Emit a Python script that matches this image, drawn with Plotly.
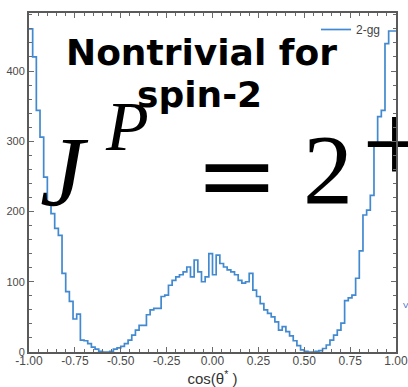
import numpy as np
import plotly.graph_objects as go

# Histogram of cos(theta*) for the 2-gg sample: 100 equal bins on [-1, 1]
bin_lo, bin_hi, n_bins = -1.0, 1.0, 100
counts = [
    460, 420, 344, 306, 249, 211, 197, 176, 166, 112,
    86, 72, 47, 54, 17, 16, 12, 7, 4, 1,
    0, 0, 1, 4, 6, 8, 12, 17, 24, 31,
    38, 38, 53, 60, 62, 62, 79, 81, 95, 102,
    107, 110, 114, 121, 107, 131, 114, 100, 107, 140,
    110, 138, 126, 121, 117, 114, 110, 102, 98, 100,
    112, 88, 79, 69, 60, 55, 50, 43, 31, 36,
    29, 23, 16, 9, 3, 1, 0, 0, 1, 2,
    5, 10, 17, 24, 31, 41, 73, 77, 81, 105,
    144, 195, 202, 223, 295, 335, 344, 439, 457, 457,
]
counts = counts[:n_bins]

series_name = "2-gg"
x_tickvals = [-1.0, -0.75, -0.5, -0.25, 0.0, 0.25, 0.5, 0.75, 1.0]
x_ticktext = ["-1.00", "-0.75", "-0.50", "-0.25", "0.00", "0.25", "0.50", "0.75", "1.00"]
y_tickvals = [0, 100, 200, 300, 400]
y_top = 482.6
x_title = "cos(θ<sup>*</sup> )"
headline = ["Nontrivial for", "spin-2"]

edges = np.linspace(bin_lo, bin_hi, n_bins + 1)
step_x = list(edges)
step_y = list(counts) + [counts[-1]]

W, H = 408, 387
L, R, T, B = 29, 12, 13, 35
pw, ph = W - L - R, H - T - B


def px(x):
    return (x - L) / pw


def py(y):
    return (H - B - y) / ph


def dx(x):
    return bin_lo + (x - L) / pw * (bin_hi - bin_lo)


def dy(y):
    return (H - B - y) / ph * y_top


fig = go.Figure()
fig.add_trace(go.Scatter(
    x=step_x, y=step_y, mode="lines", name=series_name,
    line=dict(shape="hv", color="#4189d0", width=1.7),
    showlegend=True,
))

# superscript sign that runs past the right edge of the frame
serif = "Liberation Serif"
fig.add_trace(go.Scatter(
    x=[dx(395)], y=[dy(154)], mode="text", text=["+"],
    textfont=dict(family=serif, size=117, color="black"),
    textposition="middle center", cliponaxis=False,
    showlegend=False, hoverinfo="skip",
))

axis_common = dict(
    showline=True, linecolor="#5a5a5a", linewidth=2, mirror="allticks",
    ticks="inside", ticklen=5, tickwidth=1, tickcolor="#6a6a6a",
    showgrid=False, zeroline=False, automargin=False, ticklabeloverflow="allow",
    tickfont=dict(family="Liberation Sans", size=12, color="#4a4a4a"),
)

fig.update_xaxes(
    range=[bin_lo, bin_hi], tickvals=x_tickvals, ticktext=x_ticktext,
    ticklabelstandoff=-3,
    minor=dict(dtick=0.05, ticks="inside", ticklen=3, tickcolor="#6a6a6a", showgrid=False),
    title=dict(text=x_title, font=dict(family="Liberation Sans", size=15, color="#333"), standoff=4),
    **axis_common,
)
fig.update_yaxes(
    range=[0, y_top], tickvals=y_tickvals,
    minor=dict(dtick=20, ticks="inside", ticklen=3, tickcolor="#6a6a6a", showgrid=False),
    **axis_common,
)
fig.update_yaxes(tickfont=dict(size=11))

ann = []
# bold headline
ann.append(dict(x=px(201.5), y=py(52.5), text="<b>" + headline[0] + "</b>",
                font=dict(family="DejaVu Sans", size=36, color="black")))
ann.append(dict(x=px(199), y=py(95), text="<b>" + headline[1] + "</b>",
                font=dict(family="DejaVu Sans", size=36, color="black")))
# J^P = 2
ann.append(dict(x=px(64), y=py(171), text="<i>J</i>", font=dict(family=serif, size=100, color="black")))
ann.append(dict(x=px(127), y=py(126), text="<i>P</i>", font=dict(family=serif, size=70, color="black")))
ann.append(dict(x=px(237), y=py(174), text="=", font=dict(family="DejaVu Serif", size=100, color="black")))
ann.append(dict(x=px(328), y=py(169), text="2", font=dict(family=serif, size=100, color="black")))
# small blue mark at the right edge
ann.append(dict(x=px(406), y=py(305), text="V", font=dict(family="Liberation Sans", size=8, color="#3366cc")))

for a in ann:
    a.update(xref="paper", yref="paper", showarrow=False, xanchor="center", yanchor="middle")

fig.update_layout(
    width=W, height=H,
    margin=dict(l=L, r=R, t=T, b=B, autoexpand=False),
    paper_bgcolor="white", plot_bgcolor="white",
    annotations=ann,
    legend=dict(x=px(386), y=py(15), xanchor="right", yanchor="top",
                bgcolor="rgba(0,0,0,0)", borderwidth=0,
                font=dict(family="Liberation Sans", size=12, color="#444")),
)

fig.write_html("out.html")
